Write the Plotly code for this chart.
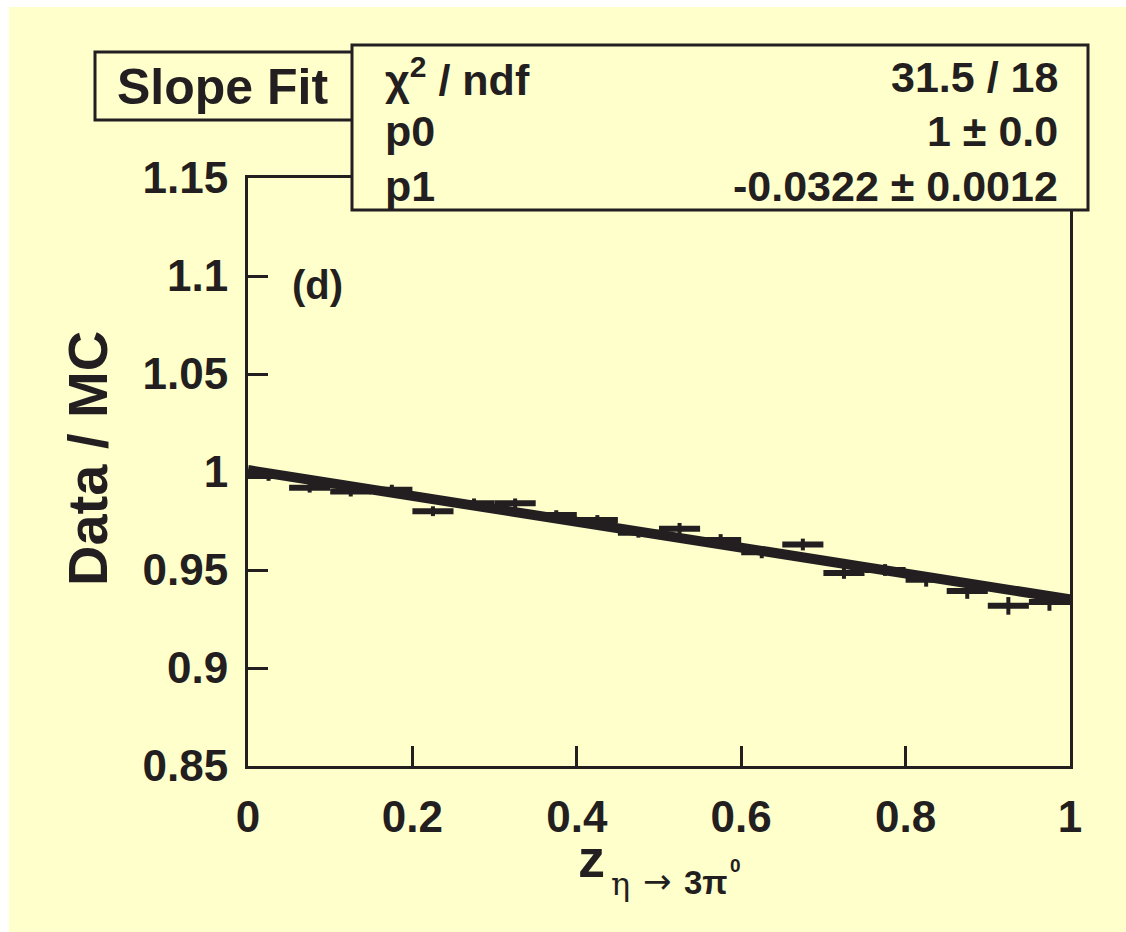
import plotly.graph_objects as go

# ---- data ----
bin_centers = [0.025, 0.075, 0.125, 0.175, 0.225, 0.275, 0.325, 0.375, 0.425, 0.475,
               0.525, 0.575, 0.625, 0.675, 0.725, 0.775, 0.825, 0.875, 0.925, 0.975]
ratio = [0.998, 0.992, 0.990, 0.991, 0.980, 0.984, 0.984, 0.978, 0.9755, 0.969,
         0.971, 0.9653, 0.959, 0.963, 0.9485, 0.950, 0.945, 0.9393, 0.9317, 0.9337]
ratio_err = [0.0025, 0.0025, 0.0025, 0.0025, 0.0025, 0.0025, 0.0025, 0.0025, 0.0025, 0.0025,
             0.003, 0.003, 0.003, 0.003, 0.003, 0.003, 0.0035, 0.004, 0.0045, 0.0045]
bin_half_width = 0.025
fit_p0 = 1.001
fit_slope = -0.066
fit_x = [0.0, 1.0]
fit_y = [fit_p0 + fit_slope * x for x in fit_x]

x_ticks = [0, 0.2, 0.4, 0.6, 0.8, 1]
x_ticklabels = ["0", "0.2", "0.4", "0.6", "0.8", "1"]
y_ticks = [0.85, 0.9, 0.95, 1.0, 1.05, 1.1, 1.15]
y_ticklabels = ["0.85", "0.9", "0.95", "1", "1.05", "1.1", "1.15"]

stats_labels = ["χ<sup>2</sup> / ndf", "p0", "p1"]
stats_values = ["31.5 / 18", "1 ± 0.0", "-0.0322 ± 0.0012"]

INK = "#231F20"
BG = "#FFFFCC"
FONT = "Liberation Sans"

fig = go.Figure()
fig.add_trace(go.Scatter(
    x=bin_centers, y=ratio, mode="markers",
    marker=dict(size=1, color=INK),
    error_x=dict(type="constant", value=bin_half_width, color=INK, thickness=6, width=0),
    error_y=dict(type="data", array=ratio_err, color=INK, thickness=4, width=0),
    showlegend=False, hoverinfo="skip"))
fig.add_trace(go.Scatter(
    x=fit_x, y=fit_y, mode="lines",
    line=dict(color=INK, width=10), showlegend=False, hoverinfo="skip"))

axis_common = dict(
    showline=True, linecolor=INK, linewidth=3, mirror=True,
    ticks="inside", ticklen=20, tickwidth=3, tickcolor=INK,
    showgrid=False, zeroline=False,
    tickfont=dict(family=FONT, size=44, color=INK),
)
fig.update_xaxes(range=[0, 1], tickvals=x_ticks,
                 ticktext=[f"<b>{t}</b>" for t in x_ticklabels],
                 ticklabelstandoff=10, **axis_common)
fig.update_yaxes(range=[0.85, 1.15], tickvals=y_ticks,
                 ticktext=[f"<b>{t}</b>" for t in y_ticklabels],
                 ticklabelstandoff=8, **axis_common)

fig.update_layout(
    width=1126, height=932,
    margin=dict(l=248, r=56, t=178, b=166),
    paper_bgcolor=BG, plot_bgcolor=BG,
    font=dict(family=FONT, color=INK),
)

# pixel helpers for boxes
W, H = 1126, 932
L, R, T, B = 248, 56, 178, 166
pw, ph = W - L - R, H - T - B
def px(x):
    return (x - L) / pw
def py(y):
    return (H - B - y) / ph

shape_list = []
# white page border (outside yellow area)
shape_list.append(dict(type="rect", xref="paper", yref="paper",
                       x0=px(0), x1=px(9), y0=py(932), y1=py(0),
                       fillcolor="white", line=dict(width=0), layer="below"))
shape_list.append(dict(type="rect", xref="paper", yref="paper",
                       x0=px(0), x1=px(1126), y0=py(7), y1=py(0),
                       fillcolor="white", line=dict(width=0), layer="below"))
# Slope Fit box
shape_list.append(dict(type="rect", xref="paper", yref="paper",
                       x0=px(95), x1=px(355), y0=py(120), y1=py(52),
                       fillcolor=BG, line=dict(color=INK, width=3), layer="above"))
# stats box
shape_list.append(dict(type="rect", xref="paper", yref="paper",
                       x0=px(352), x1=px(1088), y0=py(210), y1=py(45),
                       fillcolor=BG, line=dict(color=INK, width=3), layer="above"))
fig.update_layout(shapes=shape_list)

ann = []
def add_text(text, x, y, size, xanchor="center", yanchor="middle", bold=True, angle=0, family=FONT):
    t = f"<b>{text}</b>" if bold else text
    ann.append(dict(text=t, x=px(x), y=py(y), xref="paper", yref="paper",
                    xanchor=xanchor, yanchor=yanchor, showarrow=False,
                    textangle=angle, font=dict(family=family, size=size, color=INK)))

add_text("Slope Fit", 222, 87, 50)
row_y = [77, 131, 186]
for lab, val, yy in zip(stats_labels, stats_values, row_y):
    add_text(lab, 383, yy, 43, xanchor="left")
    add_text(val, 1060, yy, 43, xanchor="right")
add_text("(d)", 317, 285, 40)
add_text("Data / MC", 87, 459, 56, angle=-90)
# x-axis title: z_{eta -> 3pi^0}
add_text("z", 591, 858, 54)
add_text("η", 620, 884, 32, bold=False, family="DejaVu Serif")
add_text("→", 657, 881, 34, bold=False, family="DejaVu Sans")
add_text("3π", 706, 882, 33)
add_text("0", 735, 865, 19)
fig.update_layout(annotations=ann)

fig.write_html("out.html")
